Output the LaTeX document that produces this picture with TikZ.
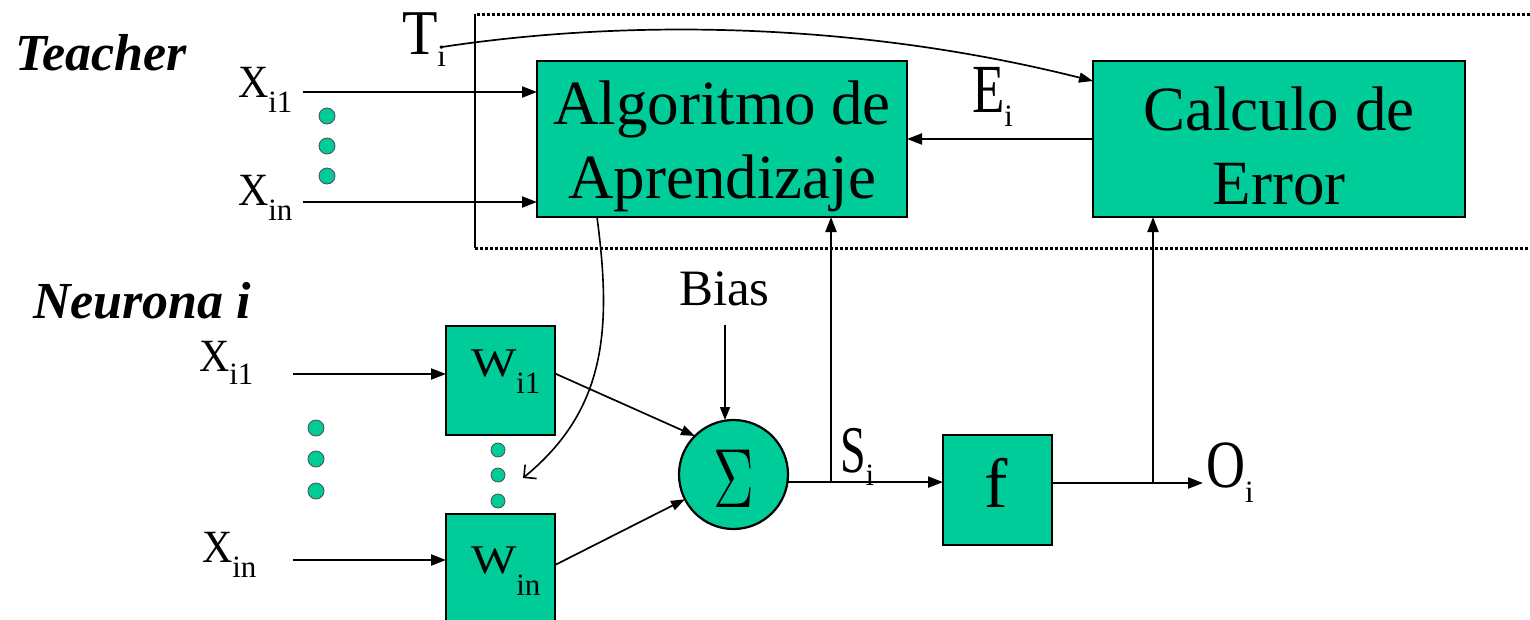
\documentclass[tikz,border=0pt]{standalone}
\usepackage{fontspec}
\setmainfont{Liberation Serif}
\usetikzlibrary{arrows.meta}
\definecolor{tealbox}{RGB}{0,204,153}
\newcommand{\fs}[1]{\fontsize{#1}{#1}\selectfont}
\newcommand{\lbl}[5]{\scalebox{1}[#2]{\fs{#1}#3}\raisebox{-#5pt}{\fs{31}#4}}
\begin{document}
\begin{tikzpicture}[x=1pt,y=-1pt,
  box/.style={draw=black,line width=2.2pt,fill=tealbox,inner sep=0pt,outer sep=0pt},
  lab/.style={anchor=base west,inner sep=0pt,outer sep=0pt},
  boxtext/.style={font={\fontsize{63}{74}\selectfont},align=center,inner sep=0pt},
  arr/.style={line width=2.2pt,-{Triangle[length=15pt,width=11pt]}},
  tarr/.style={line width=1.7pt,-{Triangle[length=14pt,width=10pt]}},
  dotfr/.style={line width=3pt,dash pattern=on 3pt off 2pt},
  dotc/.style={fill=tealbox,draw=black!70,line width=0.8pt}]
\useasboundingbox (0,0) rectangle (1530,619);
\fill[white] (0,0) rectangle (1530,619);
\clip (0,0) rectangle (1530,619);

% teacher frame
\draw[dotfr] (1530,14) -- (475,14);
\draw[dotfr] (475,248) -- (1530,248);
\draw[line width=2pt] (475,14) -- (475,248);

% section titles
\node[lab,font=\fs{52}\bfseries\itshape] (teacher) at (15,70) {Teacher};
\node[lab,font=\fs{52}\bfseries\itshape] (neurona) at (33,318) {Neurona i};

% boxes
\node[box,minimum width=370pt,minimum height=156pt] (alg) at (722,139) {};
\node[boxtext] (algt) at (722,146) {Algoritmo de\\Aprendizaje};
\node[box,minimum width=372pt,minimum height=156pt] (calc) at (1279,139) {};
\node[boxtext] (calct) at (1279,146) {Calculo de\\Error};
\node[box,minimum width=109pt,minimum height=109pt] (w1) at (500.5,380.5) {};
\node[box,minimum width=109pt,minimum height=110pt] (w2) at (500.5,569) {};
\node[box,minimum width=109pt,minimum height=110pt] (f) at (997.5,490) {};
\node[font=\fs{70},anchor=base,inner sep=0pt] (ft) at (996,507) {f};
\node[box,circle,minimum size=109pt] (sum) at (733.5,474.5) {};
\node[inner sep=0pt] (sigma) at (734,479) {\scalebox{4.8}[7]{\fs{12}$\Sigma$}};

% labels
\node[lab] (ti) at (402,54) {\lbl{58}{1.1}{T}{i}{12}};
\node[lab] (xt1) at (238,97) {\lbl{42}{1.1}{X}{i1}{15}};
\node[lab] (xt2) at (238,205) {\lbl{42}{1.1}{X}{in}{15}};
\node[lab] (xl1) at (199,371) {\lbl{42}{1.1}{X}{i1}{13}};
\node[lab] (xl2) at (202,562) {\lbl{42}{1.1}{X}{in}{15}};
\node[lab] (wl1) at (471,376) {\lbl{48}{0.85}{W}{i1}{17}};
\node[lab] (wl2) at (471,573) {\lbl{48}{0.85}{W}{in}{22}};
\node[lab] (ei) at (972,112) {\lbl{53}{1.3}{E}{i}{14}};
\node[lab] (si) at (840,472) {\lbl{46}{1.45}{S}{i}{13}};
\node[lab] (oi) at (1206,487) {\lbl{54}{1.25}{O}{i}{15}};
\node[lab,font=\fs{51}] (bias) at (679,305) {Bias};

% dots
\foreach \yy in {116,146,176} \filldraw[dotc] (327,\yy) circle (8pt);
\foreach \yy in {428,459,491} \filldraw[dotc] (316,\yy) circle (8pt);
\foreach \yy in {450,475,501} \filldraw[dotc] (498,\yy) circle (7pt);

% coordinates
\coordinate (a1) at (303,92);
\coordinate (a2) at (303,202);
\coordinate (b1) at (293,374);
\coordinate (b2) at (293,560);
\coordinate (bs) at (725,325);
\coordinate (j1) at (831,482);
\coordinate (j2) at (1153,483);
\coordinate (oend) at (1203,483);
\coordinate (tstart) at (442,47);
\coordinate (wtip) at (523,478);

% connectors
\draw[arr] (a1) -- (a1 -| alg.west);
\draw[arr] (a2) -- (a2 -| alg.west);
\draw[arr] (calc.west) -- (alg.east);
\draw[tarr] (tstart) .. controls (620,20) and (850,20) .. ([yshift=-20pt]calc.north west);
\draw[arr] (b1) -- (b1 -| w1.west);
\draw[arr] (b2) -- (b2 -| w2.west);
\draw[tarr] ([yshift=7pt]w1.east) -- (sum.135);
\draw[tarr] ([yshift=4pt]w2.east) -- (sum.207);
\draw[line width=1.5pt,-{Triangle[length=13pt,width=10pt]}] (bs) -- (bs |- sum.north);
\draw[arr] (sum.-8) -- (sum.-8 -| f.west);
\draw[arr] (j1) -- (j1 |- alg.south);
\draw[arr] (f.east |- oend) -- (oend);
\draw[arr] (j2) -- (j2 |- calc.south);
\draw[line width=1.6pt,-{Straight Barb[length=9pt,width=18pt]}] ([xshift=-125pt]alg.south) .. controls (612,330) and (606,410) .. (wtip);
\end{tikzpicture}
\end{document}
